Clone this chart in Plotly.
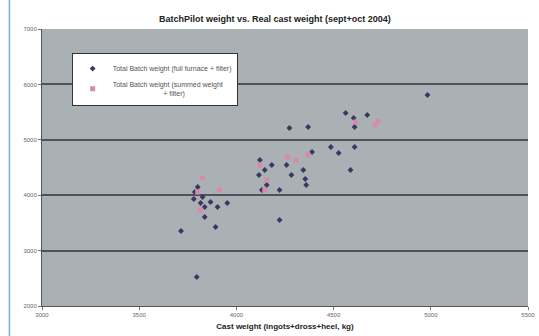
import plotly.graph_objects as go

# Series 1: Total Batch weight (full furnace + filter)
full_x = [3715, 3796, 3786, 3801, 3816, 3837, 3837, 3867, 3903, 3893, 3953, 3826, 3781,
          4121, 4146, 4116, 4156, 4131, 4182, 4222, 4222, 4258, 4283, 4344, 4354, 4359,
          4389, 4273, 4369, 4486, 4526, 4608, 4562, 4603, 4673, 4608, 4587, 4983]
full_y = [3354, 2523, 4058, 4148, 3859, 3787, 3607, 3877, 3787, 3426, 3859, 3967, 3931,
          4635, 4455, 4365, 4184, 4094, 4545, 4094, 3552, 4545, 4365, 4455, 4292, 4184,
          4780, 5213, 5231, 4870, 4762, 4870, 5484, 5393, 5448, 5231, 4455, 5809]

# Series 2: Total Batch weight (summed weight + filter)
sum_x = [3913, 3801, 3816, 3826, 4263, 4121, 4156, 4729, 4714, 4369, 4146, 4613, 4308]
sum_y = [4094, 4058, 3733, 4310, 4690, 4545, 4274, 5339, 5267, 4726, 4094, 5321, 4635]

x_ticks = [3000, 3500, 4000, 4500, 5000, 5500]
y_ticks = [2000, 3000, 4000, 5000, 6000, 7000]
y_grid = [3000, 4000, 5000, 6000]

fig = go.Figure()
fig.add_trace(go.Scatter(
    x=full_x, y=full_y, mode="markers",
    name="Total Batch weight (full furnace + filter)",
    marker=dict(size=4.5, color="#3c3762", symbol="diamond"),
))
fig.add_trace(go.Scatter(
    x=sum_x, y=sum_y, mode="markers",
    name="Total Batch weight (summed weight<br>                          + filter)",
    marker=dict(size=5, color="#d98aa6", symbol="square"),
))

fig.update_layout(
    width=539, height=336,
    margin=dict(l=42, r=4, t=29, b=30),
    paper_bgcolor="white",
    plot_bgcolor="#aab1b5",
    title=dict(
        text="<b>BatchPilot weight vs. Real cast weight (sept+oct 2004)</b>",
        x=0.51, xanchor="center", y=0.945, yanchor="middle",
        font=dict(family="Liberation Sans, Arial", size=9, color="#222"),
    ),
    showlegend=True,
    legend=dict(
        x=0.061, y=0.913, xanchor="left", yanchor="top",
        bgcolor="white", bordercolor="#333", borderwidth=1,
        font=dict(family="Liberation Sans, Arial", size=7, color="#555"),
        tracegroupgap=4, itemwidth=30,
    ),
    xaxis=dict(
        range=[3000, 5500], tickvals=x_ticks,
        showgrid=False, zeroline=False,
        showline=True, linecolor="#555", linewidth=1,
        ticks="outside", ticklen=3, tickcolor="#777",
        ticklabeloverflow="allow",
        tickfont=dict(family="Liberation Sans, Arial", size=6, color="#666"),
        title=dict(text="<b>Cast weight (ingots+dross+heel, kg)</b>",
                   font=dict(family="Liberation Sans, Arial", size=8, color="#222"),
                   standoff=6),
    ),
    yaxis=dict(
        range=[2000, 7000], tickvals=y_ticks,
        showgrid=False,
        minor=dict(tickvals=y_grid, showgrid=True, gridcolor="#4d5358", gridwidth=1.5, ticks=""),
        zeroline=False,
        showline=True, linecolor="#555", linewidth=1,
        ticks="outside", ticklen=3, tickcolor="#777",
        tickfont=dict(family="Liberation Sans, Arial", size=6, color="#666"),
    ),
    shapes=[dict(type="line", xref="paper", yref="paper",
                 x0=-0.067, x1=-0.067, y0=-0.12, y1=1.12,
                 line=dict(color="#6cb8e0", width=1.5))],
)

fig.write_html("out.html")
